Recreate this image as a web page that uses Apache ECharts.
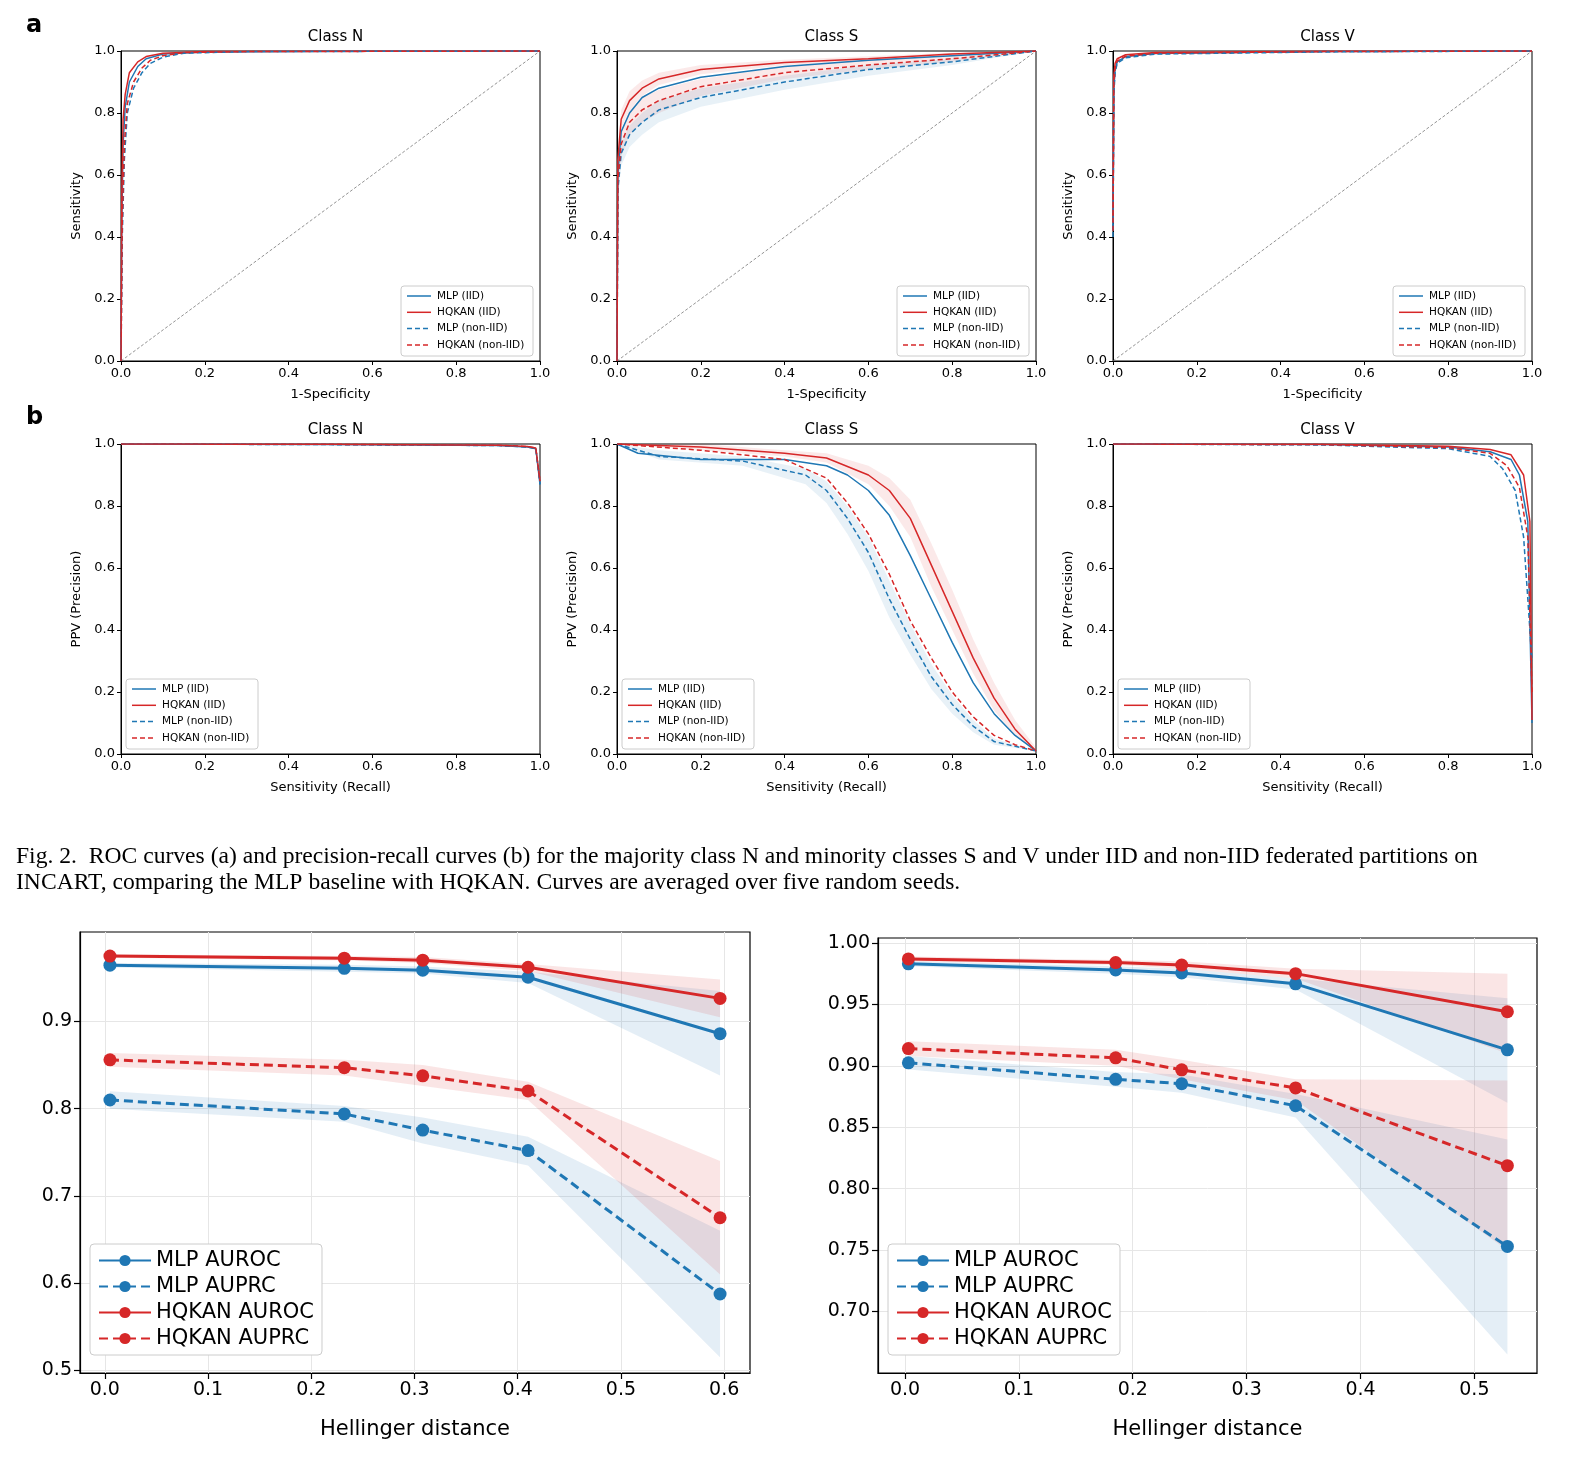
<!DOCTYPE html>
<html><head><meta charset="utf-8">
<script src="https://cdn.jsdelivr.net/npm/echarts@6/dist/echarts.min.js"></script>
<style>html,body{margin:0;padding:0;background:#fff}#c{width:1574px;height:1464px}</style>
</head><body><div id="c"></div>
<script>
// ---- top row a: ROC curves [x, y]
const rocN_mlp = [[0,0],[0.002,0.45],[0.005,0.7],[0.01,0.82],[0.02,0.9],[0.04,0.95],[0.06,0.975],[0.1,0.99],[0.2,0.997],[0.5,0.999],[1,1]];
const rocN_hq = [[0,0],[0.002,0.55],[0.005,0.78],[0.01,0.86],[0.02,0.93],[0.04,0.965],[0.06,0.982],[0.1,0.993],[0.2,0.998],[0.5,0.999],[1,1]];
const rocN_mlpNon = [[0,0],[0.003,0.4],[0.008,0.65],[0.015,0.8],[0.03,0.88],[0.05,0.93],[0.07,0.96],[0.1,0.98],[0.15,0.993],[0.3,0.998],[1,1]];
const rocN_hqNon = [[0,0],[0.003,0.45],[0.008,0.7],[0.015,0.83],[0.03,0.9],[0.05,0.945],[0.07,0.97],[0.1,0.985],[0.15,0.995],[0.3,0.998],[1,1]];
const rocS_x = [0,0.002,0.01,0.03,0.06,0.1,0.2,0.4,0.6,0.8,1];
const rocS_mlp = [0,0.6,0.74,0.8,0.85,0.88,0.915,0.95,0.97,0.985,1];
const rocS_hq = [0,0.65,0.78,0.84,0.88,0.91,0.94,0.963,0.975,0.99,1];
const rocS_mlpNon = [0,0.55,0.67,0.73,0.77,0.81,0.85,0.9,0.94,0.965,1];
const rocS_hqNon = [0,0.58,0.7,0.77,0.81,0.84,0.885,0.93,0.955,0.975,1];
const rocS_hqNonHi = [0,0.62,0.74,0.81,0.85,0.875,0.91,0.95,0.97,0.985,1];
const rocS_hqNonLo = [0,0.54,0.66,0.73,0.77,0.8,0.855,0.91,0.94,0.965,1];
const rocS_mlpNonHi = [0,0.58,0.7,0.76,0.8,0.84,0.88,0.92,0.955,0.975,1];
const rocS_mlpNonLo = [0,0.52,0.63,0.69,0.73,0.77,0.82,0.875,0.92,0.955,1];
const rocS_hqHi = [0,0.68,0.81,0.87,0.905,0.93,0.955,0.972,0.983,0.994,1];
const rocS_hqLo = [0,0.62,0.75,0.81,0.855,0.89,0.925,0.954,0.967,0.985,1];
const rocV_mlp = [[0,0.42],[0.002,0.88],[0.005,0.94],[0.01,0.965],[0.03,0.982],[0.1,0.992],[0.5,0.998],[1,1]];
const rocV_hq = [[0,0.45],[0.002,0.92],[0.005,0.96],[0.01,0.975],[0.03,0.988],[0.1,0.995],[0.5,0.999],[1,1]];
const rocV_mlpNon = [[0,0.4],[0.002,0.86],[0.005,0.93],[0.01,0.96],[0.03,0.978],[0.1,0.99],[0.5,0.997],[1,1]];
const rocV_hqNon = [[0,0.42],[0.002,0.89],[0.005,0.945],[0.01,0.968],[0.03,0.983],[0.1,0.993],[0.5,0.998],[1,1]];
// ---- row b: PR curves [recall, precision]
const prN_mlp = [[0,1],[0.5,0.998],[0.9,0.995],[0.97,0.99],[0.99,0.985],[1,0.87]];
const prN_hq = [[0,1],[0.5,0.999],[0.9,0.996],[0.97,0.992],[0.99,0.987],[1,0.88]];
const prS_mlp = [[0,1],[0.05,0.97],[0.2,0.95],[0.4,0.95],[0.5,0.93],[0.55,0.9],[0.6,0.85],[0.65,0.77],[0.7,0.64],[0.75,0.5],[0.8,0.36],[0.85,0.23],[0.9,0.13],[0.95,0.06],[1,0.01]];
const prS_hqX = [0,0.2,0.4,0.5,0.6,0.65,0.7,0.75,0.8,0.85,0.9,0.95,1];
const prS_hq = [1,0.99,0.97,0.955,0.9,0.85,0.76,0.61,0.46,0.31,0.18,0.08,0.01];
const prS_hqHi = [1,1,0.98,0.97,0.93,0.89,0.82,0.68,0.53,0.37,0.23,0.11,0.02];
const prS_hqLo = [1,0.98,0.96,0.94,0.87,0.8,0.7,0.54,0.4,0.26,0.14,0.06,0.01];
const prS_mlpNonX = [0,0.1,0.3,0.45,0.5,0.55,0.6,0.65,0.7,0.75,0.8,0.85,0.9,1];
const prS_mlpNon = [1,0.96,0.945,0.9,0.85,0.76,0.65,0.5,0.37,0.25,0.16,0.09,0.04,0.01];
const prS_mlpNonHi = [1,0.98,0.96,0.92,0.88,0.8,0.7,0.56,0.42,0.29,0.19,0.11,0.05,0.01];
const prS_mlpNonLo = [1,0.95,0.93,0.87,0.81,0.71,0.59,0.44,0.32,0.21,0.13,0.07,0.03,0.01];
const prS_hqNon = [[0,1],[0.2,0.98],[0.4,0.95],[0.5,0.89],[0.55,0.81],[0.6,0.71],[0.65,0.58],[0.7,0.43],[0.75,0.31],[0.8,0.2],[0.85,0.12],[0.9,0.06],[0.95,0.03],[1,0.01]];
const prV_mlp = [[0,1],[0.5,0.998],[0.8,0.99],[0.9,0.975],[0.95,0.95],[0.97,0.9],[0.99,0.75],[1,0.1]];
const prV_hq = [[0,1],[0.5,0.999],[0.8,0.993],[0.9,0.982],[0.95,0.965],[0.98,0.9],[0.995,0.75],[1,0.11]];
const prV_mlpNon = [[0,1],[0.5,0.997],[0.8,0.985],[0.9,0.96],[0.93,0.92],[0.96,0.85],[0.98,0.7],[1,0.3]];
const prV_hqNon = [[0,1],[0.5,0.998],[0.8,0.988],[0.9,0.97],[0.94,0.93],[0.97,0.86],[0.99,0.7],[1,0.2]];
// ---- bottom left
const hdL = [0.005, 0.232, 0.308, 0.41, 0.596];
const L_mlpRoc = [0.9646, 0.961, 0.9588, 0.9507, 0.886];
const L_mlpRocLo = [0.962, 0.957, 0.955, 0.944, 0.838];
const L_mlpRocHi = [0.967, 0.965, 0.963, 0.957, 0.935];
const L_hqRoc = [0.975, 0.9726, 0.9703, 0.9622, 0.9265];
const L_hqRocLo = [0.973, 0.970, 0.967, 0.958, 0.905];
const L_hqRocHi = [0.977, 0.975, 0.974, 0.966, 0.948];
const L_hqPrc = [0.856, 0.847, 0.8377, 0.8204, 0.675];
const L_hqPrcLo = [0.848, 0.838, 0.826, 0.810, 0.61];
const L_hqPrcHi = [0.864, 0.856, 0.850, 0.831, 0.74];
const L_mlpPrc = [0.81, 0.794, 0.7755, 0.752, 0.5876];
const L_mlpPrcLo = [0.80, 0.785, 0.760, 0.735, 0.515];
const L_mlpPrcHi = [0.82, 0.803, 0.790, 0.768, 0.66];
// ---- bottom right
const hdR = [0.003, 0.185, 0.243, 0.343, 0.529];
const R_mlpRoc = [0.983, 0.978, 0.9756, 0.9667, 0.913];
const R_mlpRocLo = [0.981, 0.975, 0.972, 0.962, 0.87];
const R_mlpRocHi = [0.985, 0.981, 0.979, 0.971, 0.955];
const R_hqRoc = [0.987, 0.984, 0.982, 0.975, 0.944];
const R_hqRocLo = [0.985, 0.982, 0.979, 0.971, 0.91];
const R_hqRocHi = [0.989, 0.986, 0.985, 0.979, 0.975];
const R_hqPrc = [0.914, 0.9065, 0.8967, 0.882, 0.8187];
const R_hqPrcLo = [0.908, 0.900, 0.889, 0.872, 0.75];
const R_hqPrcHi = [0.920, 0.913, 0.905, 0.889, 0.888];
const R_mlpPrc = [0.9024, 0.889, 0.8854, 0.8675, 0.753];
const R_mlpPrcLo = [0.897, 0.883, 0.878, 0.858, 0.665];
const R_mlpPrcHi = [0.908, 0.895, 0.893, 0.877, 0.84];
const ticksL_x = [0,0.1,0.2,0.3,0.4,0.5,0.6];
const ticksL_y = [0.5,0.6,0.7,0.8,0.9];
const ticksR_x = [0,0.1,0.2,0.3,0.4,0.5];
const ticksR_y = [0.70,0.75,0.80,0.85,0.90,0.95,1.00];

const BLUE = '#1f77b4', RED = '#d62728';
const FONT = 'DejaVu Sans';
const names4 = ['MLP (IID)','HQKAN (IID)','MLP (non-IID)','HQKAN (non-IID)'];
const grids = [], xAxes = [], yAxes = [], series = [], titles = [], graphics = [];
const topL = [121, 617, 1113], rowT = [51, 444];
const classes = ['Class N','Class S','Class V'];
const zip = (xs, ys) => xs.map((x,i)=>[x, ys[i]]);
const curves = [
  [rocN_mlp, rocN_hq, rocN_mlpNon, rocN_hqNon],
  [zip(rocS_x,rocS_mlp), zip(rocS_x,rocS_hq), zip(rocS_x,rocS_mlpNon), zip(rocS_x,rocS_hqNon)],
  [rocV_mlp, rocV_hq, rocV_mlpNon, rocV_hqNon],
  [prN_mlp, prN_hq, prN_mlp, prN_hq],
  [prS_mlp, zip(prS_hqX,prS_hq), zip(prS_mlpNonX,prS_mlpNon), prS_hqNon],
  [prV_mlp, prV_hq, prV_mlpNon, prV_hqNon]
];
function band(gi, xs, lo, hi, color, op) {
  series.push({type:'custom', xAxisIndex:gi, yAxisIndex:gi, silent:true, data:[[xs[0], lo[0]]], z:1,
    renderItem: (params, api) => {
      const pts = [];
      xs.forEach((x,i)=>pts.push(api.coord([x, hi[i]])));
      for (let i = xs.length-1; i >= 0; i--) pts.push(api.coord([xs[i], lo[i]]));
      return {type:'polygon', shape:{points:pts}, style:{fill:color, opacity:op}};
    }});
}
const styles4 = [[BLUE,'solid'],[RED,'solid'],[BLUE,[5,3]],[RED,[5,3]]];
for (let r = 0; r < 2; r++) for (let c = 0; c < 3; c++) {
  const gi = grids.length;
  grids.push({left: topL[c], top: rowT[r], width: 419, height: 310, show: true, borderColor: '#000', borderWidth: 1});
  const ax = {type:'value', min:0, max:1, interval:0.2, gridIndex: gi, splitLine:{show:false},
    axisLine:{show:true, onZero:false, lineStyle:{color:'#000'}}, axisTick:{lineStyle:{color:'#000'}, length:4},
    axisLabel:{color:'#000', fontSize:13, fontFamily:FONT, formatter:v=>v.toFixed(1), margin:6},
    nameLocation:'middle', nameTextStyle:{color:'#000', fontSize:13, fontFamily:FONT}};
  xAxes.push(Object.assign({}, ax, {name: r===0 ? '1-Specificity' : 'Sensitivity (Recall)', nameGap: 27}));
  yAxes.push(Object.assign({}, ax, {name: r===0 ? 'Sensitivity' : 'PPV (Precision)', nameGap: 38}));
  titles.push({text: classes[c], left: topL[c] + 209.5, top: rowT[r] - 26, textAlign: 'center',
    textStyle:{fontSize:15, fontWeight:'normal', fontFamily:FONT, color:'#000'}});
  const cs = curves[r*3 + c];
  if (r === 0) series.push({type:'line', xAxisIndex:gi, yAxisIndex:gi, data:[[0,0],[1,1]], symbol:'none', silent:true,
    lineStyle:{color:'#777', width:0.8, type:[3,2]}});
  styles4.forEach((st, k) => {
    series.push({name: names4[k], type:'line', xAxisIndex:gi, yAxisIndex:gi, data: cs[k], symbol:'none',
      lineStyle:{color: st[0], width:1.5, type: st[1]}, itemStyle:{color: st[0]}, z: 3});
  });
  // legend box drawn as graphic (per-panel)
  const lx = r === 0 ? topL[c] + 280 : topL[c] + 5, ly = rowT[r] + 235;
  const items = [{type:'rect', shape:{x:0,y:0,width:132,height:70,r:3}, style:{fill:'#fff', stroke:'#ccc', lineWidth:1}}];
  styles4.forEach((st,k) => {
    const yy = 10 + k*16.3;
    items.push({type:'line', shape:{x1:6,y1:yy,x2:30,y2:yy}, style:{stroke:st[0], lineWidth:1.5, lineDash: st[1]==='solid'?null:[5,3]}});
    items.push({type:'text', x:36, y:yy, style:{text:names4[k], font:'10.5px "DejaVu Sans"', fill:'#000', textVerticalAlign:'middle'}});
  });
  graphics.push({type:'group', x:lx, y:ly, z:100, children: items});
}
band(1, rocS_x, rocS_hqLo, rocS_hqHi, RED, 0.1);
band(1, rocS_x, rocS_hqNonLo, rocS_hqNonHi, RED, 0.1);
band(1, rocS_x, rocS_mlpNonLo, rocS_mlpNonHi, BLUE, 0.1);
band(4, prS_hqX, prS_hqLo, prS_hqHi, RED, 0.1);
band(4, prS_mlpNonX, prS_mlpNonLo, prS_mlpNonHi, BLUE, 0.1);

const legends = [];
function bottomPanel(left, top, w, h, xmin, xmax, ymin, ymax, tx, ty, dec, hd, sets) {
  const gi = grids.length;
  grids.push({left, top, width:w, height:h, show:true, borderColor:'#000', borderWidth:1.2});
  xAxes.push({type:'value', gridIndex:gi, min:xmin, max:xmax, name:'Hellinger distance', nameLocation:'middle', nameGap:46,
    nameTextStyle:{fontSize:21, fontFamily:FONT, color:'#000'},
    axisLine:{show:true, onZero:false, lineStyle:{color:'#000', width:1.2}},
    axisTick:{customValues: tx, length:6, lineStyle:{color:'#000', width:1.2}},
    axisLabel:{customValues: tx, fontSize:19, fontFamily:FONT, color:'#000', formatter:v=>v.toFixed(1), margin:8},
    splitLine:{show:true, lineStyle:{color:'#e6e6e6', width:1}}});
  yAxes.push({type:'value', gridIndex:gi, min:ymin, max:ymax,
    axisLine:{show:true, onZero:false, lineStyle:{color:'#000', width:1.2}},
    axisTick:{customValues: ty, length:6, lineStyle:{color:'#000', width:1.2}},
    axisLabel:{customValues: ty, fontSize:19, fontFamily:FONT, color:'#000', formatter:v=>v.toFixed(dec), margin:8},
    splitLine:{show:true, lineStyle:{color:'#e6e6e6', width:1}}});
  sets.forEach(s => {
    band(gi, hd, s.lo, s.hi, s.color, 0.12);
    series.push({name:s.name, type:'line', xAxisIndex:gi, yAxisIndex:gi, data: zip(hd, s.v),
      symbol:'circle', symbolSize:13, z:3,
      lineStyle:{color:s.color, width:3, type: s.dash ? [9,5] : 'solid'}, itemStyle:{color:s.color}});
  });
  legends.push({data: sets.map(s=>s.name), orient:'vertical', left: left + 10, top: 1244,
    itemWidth:52, itemHeight:14, itemGap:5, selectedMode:false,
    textStyle:{fontSize:21, fontFamily:FONT, color:'#000'}, backgroundColor:'#fff', borderColor:'#ccc', borderWidth:1, borderRadius:4, padding:[6,8]});
}
bottomPanel(80, 932, 670, 441, -0.024, 0.625, 0.497, 1.0026, ticksL_x, ticksL_y, 1, hdL, [
  {name:'MLP AUROC', v:L_mlpRoc, lo:L_mlpRocLo, hi:L_mlpRocHi, color:BLUE, dash:false},
  {name:'MLP AUPRC', v:L_mlpPrc, lo:L_mlpPrcLo, hi:L_mlpPrcHi, color:BLUE, dash:true},
  {name:'HQKAN AUROC', v:L_hqRoc, lo:L_hqRocLo, hi:L_hqRocHi, color:RED, dash:false},
  {name:'HQKAN AUPRC', v:L_hqPrc, lo:L_hqPrcLo, hi:L_hqPrcHi, color:RED, dash:true}]);
bottomPanel(878, 938, 659, 435, -0.0237, 0.555, 0.650, 1.004, ticksR_x, ticksR_y, 2, hdR, [
  {name:'MLP AUROC', v:R_mlpRoc, lo:R_mlpRocLo, hi:R_mlpRocHi, color:BLUE, dash:false},
  {name:'MLP AUPRC', v:R_mlpPrc, lo:R_mlpPrcLo, hi:R_mlpPrcHi, color:BLUE, dash:true},
  {name:'HQKAN AUROC', v:R_hqRoc, lo:R_hqRocLo, hi:R_hqRocHi, color:RED, dash:false},
  {name:'HQKAN AUPRC', v:R_hqPrc, lo:R_hqPrcLo, hi:R_hqPrcHi, color:RED, dash:true}]);

graphics.push(
  {type:'text', left:26, top:14, style:{text:'a', font:'bold 24px "DejaVu Sans"', fill:'#000'}},
  {type:'text', left:26, top:406, style:{text:'b', font:'bold 24px "DejaVu Sans"', fill:'#000'}},
  {type:'text', left:16, top:845, style:{text:'Fig. 2.  ROC curves (a) and precision-recall curves (b) for the majority class N and minority classes S and V under IID and non-IID federated partitions on', font:'23.6px "Liberation Serif"', fill:'#000'}},
  {type:'text', left:16, top:871, style:{text:'INCART, comparing the MLP baseline with HQKAN. Curves are averaged over five random seeds.', font:'23.6px "Liberation Serif"', fill:'#000'}}
);
const chart = echarts.init(document.getElementById('c'), null, {renderer:'canvas'});
chart.setOption({
  animation:false, backgroundColor:'#fff',
  title: titles, grid: grids, xAxis: xAxes, yAxis: yAxes, legend: legends, series, graphic: graphics
});
</script></body></html>
